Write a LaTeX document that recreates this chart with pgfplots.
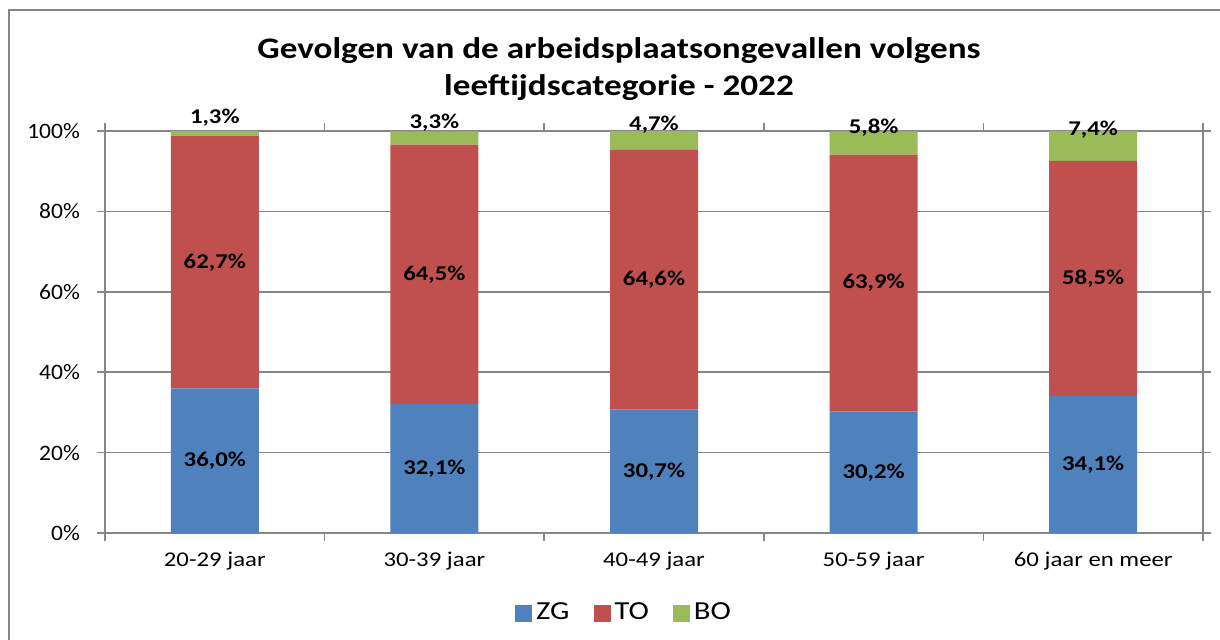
\documentclass[border=0pt]{standalone}
\usepackage{fontspec}
\setmainfont{Carlito}[FakeStretch=1.18]
\newfontfamily\tickfont{Carlito}[FakeStretch=1.07]
\usepackage{pgfplots}
\usepackage{pgfplotstable}
\pgfplotsset{compat=1.18}
\definecolor{zg}{HTML}{4F81BD}
\definecolor{to}{HTML}{C0504D}
\definecolor{bo}{HTML}{9BBB59}
\definecolor{axgray}{HTML}{868686}
\pgfplotstableread{
x ZG TO BO
0 36.0 62.7 1.3
1 32.1 64.5 3.3
2 30.7 64.6 4.7
3 30.2 63.9 5.8
4 34.1 58.5 7.4
}\data
\begin{document}
\begin{tikzpicture}
\useasboundingbox (0,0) rectangle (610pt,319.5pt);
\draw[axgray, line width=0.75pt] (4.5pt,-2pt) -- (4.5pt,314.5pt) -- (612pt,314.5pt);
\node[font=\bfseries\fontsize{14.9}{18.5}\selectfont, align=center] at (309.5pt,284.75pt) {Gevolgen van de arbeidsplaatsongevallen volgens\\leeftijdscategorie - 2022};
\begin{axis}[
  at={(52.5pt,53pt)}, anchor=south west,
  scale only axis, width=549pt, height=201pt,
  xmin=-0.5, xmax=4.5, ymin=0, ymax=100,
  ybar stacked, bar width=44pt,
  xtick={0,1,2,3,4},
  xticklabels={20-29 jaar,30-39 jaar,40-49 jaar,50-59 jaar,60 jaar en meer},
  minor xtick={-0.5,0.5,1.5,2.5,3.5,4.5},
  ytick={0,20,40,60,80,100},
  yticklabels={0\%,20\%,40\%,60\%,80\%,100\%},
  tick align=outside,
  major tick length=4pt, minor tick length=4pt,
  major x tick style={draw=none},
  tick style={axgray, line width=0.75pt},
  axis line style={axgray, line width=0.75pt},
  ymajorgrids, grid style={axgray, line width=0.75pt},
  yticklabel style={font=\tickfont\fontsize{11}{13}\selectfont, xshift=-5pt},
  xticklabel style={font=\fontsize{10.5}{12}\selectfont, yshift=-2pt},
  /pgf/number format/assume math mode=true,
  nodes near coords={\pgfmathprintnumber[fixed,fixed zerofill,precision=1,use comma]{\pgfplotspointmeta}\%},
  every node near coord/.append style={font=\bfseries\fontsize{10.5}{12}\selectfont, text=black},
  legend style={at={(0.4736,-0.199)}, anchor=center, legend columns=-1, draw=none,
    font=\fontsize{13}{15}\selectfont,
    /tikz/every even column/.append style={column sep=10pt}},
  legend image code/.code={\fill[#1] (0pt,-4.25pt) rectangle (8.5pt,4.25pt);},
]
\addplot[fill=zg, draw=none,
  every node near coord/.append style={anchor=center}]
  table[x=x, y=ZG] {\data};
\addplot[fill=to, draw=none,
  every node near coord/.append style={anchor=center}]
  table[x=x, y=TO] {\data};
\addplot[fill=bo, draw=none,
  every node near coord/.append style={anchor=south, yshift=0pt}]
  table[x=x, y=BO] {\data};
\legend{ZG,TO,BO}
\end{axis}
\end{tikzpicture}
\end{document}
